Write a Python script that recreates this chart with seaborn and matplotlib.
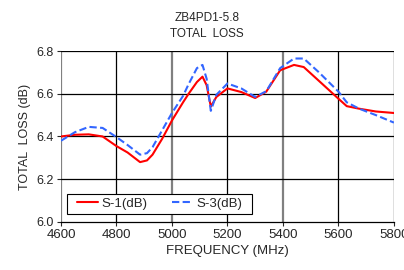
import pandas as pd
import matplotlib
matplotlib.use('Agg')
import matplotlib.pyplot as plt
from matplotlib.patches import Rectangle
import seaborn as sns

# values
freq = [4600, 4650, 4700, 4750, 4800, 4840, 4885, 4910, 4930, 4965, 5000,
        5040, 5060, 5090, 5110, 5125, 5140, 5160, 5200, 5250, 5300,
        5340, 5390, 5440, 5475, 5530, 5600, 5630, 5675, 5735, 5800]
s1_db = [6.400, 6.408, 6.410, 6.400, 6.355, 6.325, 6.280, 6.288, 6.315, 6.390, 6.475,
         6.560, 6.600, 6.655, 6.680, 6.640, 6.540, 6.585, 6.625, 6.608, 6.580,
         6.610, 6.710, 6.735, 6.725, 6.660, 6.577, 6.542, 6.530, 6.517, 6.510]
s3_db = [6.380, 6.420, 6.445, 6.440, 6.397, 6.360, 6.315, 6.322, 6.350, 6.430, 6.510,
         6.590, 6.645, 6.720, 6.735, 6.670, 6.520, 6.595, 6.648, 6.625, 6.585,
         6.612, 6.720, 6.765, 6.765, 6.700, 6.610, 6.560, 6.530, 6.500, 6.465]
series_names = ['S-1(dB)', 'S-3(dB)']
x_ticks = [4600, 4800, 5000, 5200, 5400, 5600, 5800]
y_ticks = [6.0, 6.2, 6.4, 6.6, 6.8]

df = pd.DataFrame({'freq': freq * 2,
                   'loss': s1_db + s3_db,
                   'series': [series_names[0]] * len(freq) + [series_names[1]] * len(freq)})

sns.set_style('white')
plt.rcParams['font.family'] = ['Liberation Sans', 'DejaVu Sans']

fig = plt.figure(figsize=(4.04, 2.70), dpi=100)
ax = fig.add_axes([0.151, 0.178, 0.824, 0.633])

# grid lines (alternate ones look grey in the reference)
for xv in x_ticks:
    if xv in (4600, 5000, 5400):
        ax.axvline(xv, color='#808080', lw=1.6, zorder=1)
    else:
        ax.axvline(xv, color='black', lw=0.9, zorder=1)
for yv in y_ticks[1:]:
    ax.axhline(yv, color='black', lw=0.9, zorder=1)

sns.lineplot(data=df, x='freq', y='loss', hue='series', style='series',
             palette={'S-1(dB)': '#ff0000', 'S-3(dB)': '#3366ff'},
             dashes={'S-1(dB)': '', 'S-3(dB)': (3.5, 1.6)},
             linewidth=1.5, legend=False, ax=ax)
curves = ax.get_lines()[-2:]
for c in curves:
    c.set_zorder(5)

ax.set_xlim(4600, 5800)
ax.set_ylim(6.0, 6.8)
ax.set_xticks(x_ticks)
ax.set_yticks(y_ticks)
ax.set_yticklabels(['%.1f' % v for v in y_ticks])
ax.tick_params(axis='x', labelsize=9.5)
ax.tick_params(axis='y', labelsize=9)
ax.tick_params(axis='both', direction='out', length=3, width=0.8, pad=2,
               bottom=True, left=True)
for side in ['top', 'right', 'left']:
    ax.spines[side].set_visible(False)
ax.spines['bottom'].set_color('black')
ax.spines['bottom'].set_linewidth(0.9)

ax.set_xlabel('FREQUENCY (MHz)', fontsize=9.5, labelpad=3)
ax.set_ylabel('TOTAL  LOSS (dB)', fontsize=9, labelpad=4)

fig.text(0.513, 0.935, 'ZB4PD1-5.8', ha='center', va='center', fontsize=8.5)
fig.text(0.513, 0.875, 'TOTAL  LOSS', ha='center', va='center', fontsize=8.5)

# legend box
box = (0.018, 0.047, 0.556, 0.117)
ax.add_patch(Rectangle(box[:2], box[2], box[3], transform=ax.transAxes,
                       facecolor='white', edgecolor='black', lw=0.8, zorder=6))
leg = ax.legend(curves, series_names, loc='center', ncol=2, fontsize=9.5,
                bbox_to_anchor=box, frameon=False,
                handlelength=1.6, columnspacing=1.9, borderpad=0,
                handletextpad=0.25, borderaxespad=0)
leg.set_zorder(7)

fig.savefig('out.png', dpi=100)
